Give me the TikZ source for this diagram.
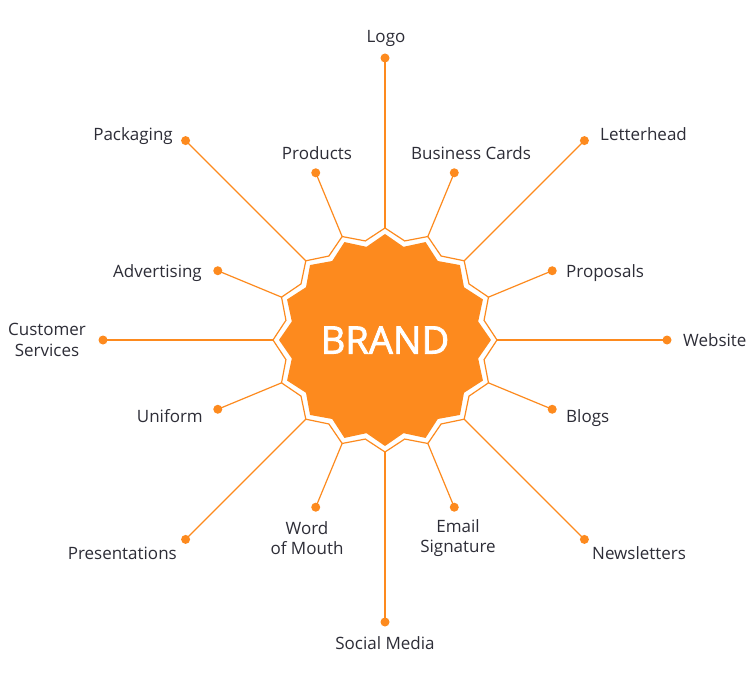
\documentclass[tikz,border=0pt]{standalone}
\usepackage{fontspec}
\setmainfont{Open Sans}
\newfontfamily\brandfont{Open Sans}[FakeBold=2]
\definecolor{brandorange}{RGB}{253,138,30}
\definecolor{labeltext}{RGB}{45,45,55}
\begin{document}
\begin{tikzpicture}[x=1pt,y=-1pt,
  spoke/.style={brandorange,line width=1.2pt},
  dotmark/.style={circle,fill=brandorange,inner sep=0pt,minimum size=9pt},
  lbl/.style={text=labeltext,font=\fontsize{17}{20.5}\selectfont,inner sep=0pt,align=center}]
\useasboundingbox[fill=white] (0,0) rectangle (756,682);
% outer outline star
\draw[brandorange,line width=1.2pt]
  ({385+112*cos(90)},{340-112*sin(90)})
  \foreach \k in {0,...,15}{
    -- ({385+101*cos(90-22.5*\k-11.25)},{340-101*sin(90-22.5*\k-11.25)})
    -- ({385+112*cos(90-22.5*(\k+1))},{340-112*sin(90-22.5*(\k+1))})
  } -- cycle;
% filled star
\fill[brandorange]
  ({385+106*cos(90)},{340-106*sin(90)})
  \foreach \k in {0,...,15}{
    -- ({385+95*cos(90-22.5*\k-11.25)},{340-95*sin(90-22.5*\k-11.25)})
    -- ({385+106*cos(90-22.5*(\k+1))},{340-106*sin(90-22.5*(\k+1))})
  } -- cycle;
\node[text=white,font=\brandfont\fontsize{38}{42}\selectfont,inner sep=0pt] (brand) at (385,340) {BRAND};
% star points and dots
\foreach \k in {0,...,15}{
  \coordinate (p\k) at ({385+112*cos(90-22.5*\k)},{340-112*sin(90-22.5*\k)});
  \pgfmathsetmacro\rr{ifthenelse(mod(\k,2)==0,282,181)}
  \node[dotmark] (d\k) at ({385+\rr*cos(90-22.5*\k)},{340-\rr*sin(90-22.5*\k)}) {};
  \draw[spoke] (p\k) -- (d\k.center);
}
% labels
\node[lbl,anchor=base] (l0) at (386,43) {Logo};
\node[lbl,anchor=base] (l1) at (471,160) {Business Cards};
\node[lbl,anchor=base west] (l2) at (600,141) {Letterhead};
\node[lbl,anchor=base west] (l3) at (566,277) {Proposals};
\node[lbl,anchor=base west] (l4) at (683,346) {Website};
\node[lbl,anchor=base west] (l5) at (566,422) {Blogs};
\node[lbl,anchor=base west] (l6) at (592,559) {Newsletters};
\node[lbl] (l7) at (458,538) {Email\\Signature};
\node[lbl,anchor=base] (l8) at (385,649) {Social Media};
\node[lbl] (l9) at (307,538) {Word\\of Mouth};
\node[lbl,anchor=base east] (l10) at (177,559) {Presentations};
\node[lbl,anchor=base east] (l11) at (203,422) {Uniform};
\node[lbl] (l12) at (47,340) {Customer\\Services};
\node[lbl,anchor=base east] (l13) at (202,277) {Advertising};
\node[lbl,anchor=base east] (l14) at (173,141) {Packaging};
\node[lbl,anchor=base] (l15) at (317,160) {Products};
\end{tikzpicture}
\end{document}
